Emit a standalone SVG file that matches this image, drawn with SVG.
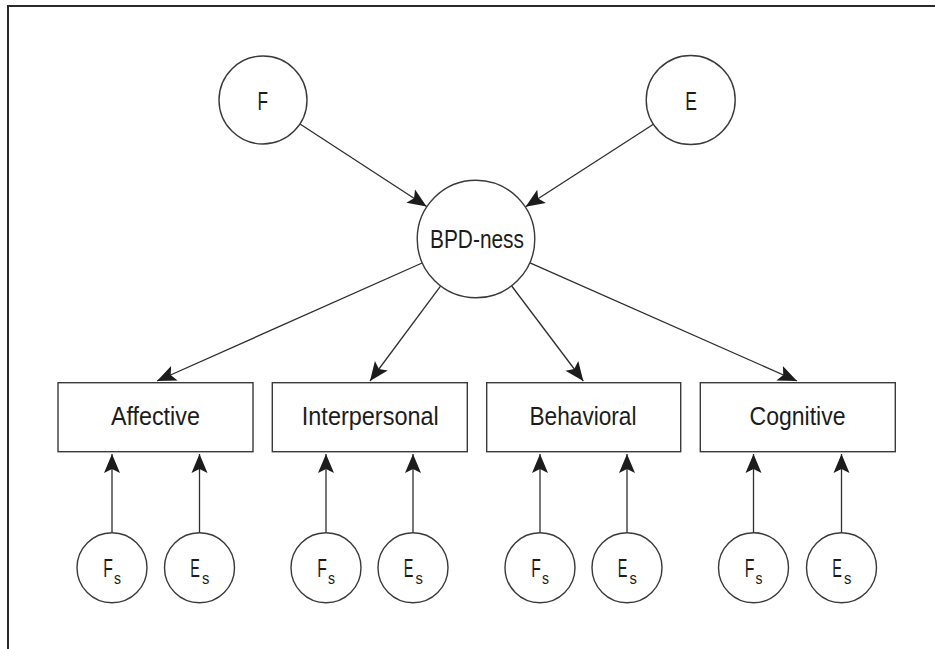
<svg xmlns="http://www.w3.org/2000/svg" width="935" height="649" viewBox="0 0 935 649">
<style>
.frame{fill:none;stroke:#2b2b2b;stroke-width:2}
.node{fill:#fff;stroke:#3a3a3a;stroke-width:1.4}
.edge{fill:none;stroke:#2e2e2e;stroke-width:1.3}
.lbl{font-family:"Liberation Sans Narrow","Liberation Sans",Arial,sans-serif;font-size:26px;fill:#1c1c1c;text-anchor:middle}
.st{font-family:"Liberation Sans Narrow","Liberation Sans",Arial,sans-serif;font-size:26px;fill:#1c1c1c;text-anchor:start}
.sub{font-size:17px}
</style>
<defs>
<marker id="arr" markerUnits="userSpaceOnUse" markerWidth="22" markerHeight="22" viewBox="-20 -10 22 20" refX="0" refY="0" orient="auto">
<path d="M0,0 L-19,-8 L-15,0 L-19,8 Z" fill="#1c1c1c"/>
</marker>
</defs>
<rect width="935" height="649" fill="#fff"/>
<path class="frame" d="M8,649 V6 H935"/>
<g id="connectors">
<line class="edge" x1="300" y1="124" x2="426.6" y2="206.5" marker-end="url(#arr)"/>
<line class="edge" x1="653.8" y1="124" x2="525.6" y2="206.7" marker-end="url(#arr)"/>
<line class="edge" x1="422.1" y1="263" x2="157" y2="381" marker-end="url(#arr)"/>
<line class="edge" x1="440.5" y1="286.2" x2="370" y2="381" marker-end="url(#arr)"/>
<line class="edge" x1="511.7" y1="286" x2="583.3" y2="381" marker-end="url(#arr)"/>
<line class="edge" x1="530" y1="262.8" x2="797" y2="381" marker-end="url(#arr)"/>
<line class="edge" x1="112" y1="532.7" x2="112" y2="454" marker-end="url(#arr)"/>
<line class="edge" x1="199.5" y1="532.7" x2="199.5" y2="454" marker-end="url(#arr)"/>
<line class="edge" x1="326" y1="532.7" x2="326" y2="454" marker-end="url(#arr)"/>
<line class="edge" x1="413" y1="532.7" x2="413" y2="454" marker-end="url(#arr)"/>
<line class="edge" x1="540" y1="532.7" x2="540" y2="454" marker-end="url(#arr)"/>
<line class="edge" x1="627" y1="532.7" x2="627" y2="454" marker-end="url(#arr)"/>
<line class="edge" x1="753.5" y1="532.7" x2="753.5" y2="454" marker-end="url(#arr)"/>
<line class="edge" x1="841.5" y1="532.7" x2="841.5" y2="454" marker-end="url(#arr)"/>
</g>
<g id="F"><circle class="node" cx="263" cy="100" r="44"/><text class="lbl" x="262.7" y="109.5" textLength="10.5" lengthAdjust="spacingAndGlyphs">F</text></g>
<g id="E"><circle class="node" cx="690.7" cy="100" r="44.5"/><text class="lbl" x="691" y="109.5" textLength="11.7" lengthAdjust="spacingAndGlyphs">E</text></g>
<g id="BPD"><circle class="node" cx="476" cy="239" r="58.8"/><text class="lbl" x="477" y="247.5" textLength="94" lengthAdjust="spacingAndGlyphs">BPD-ness</text></g>
<g id="Affective"><rect class="node" x="58" y="382.7" width="195" height="69"/><text class="lbl" x="155.4" y="425" textLength="89" lengthAdjust="spacingAndGlyphs">Affective</text></g>
<g id="Interpersonal"><rect class="node" x="272.3" y="382.7" width="195" height="69"/><text class="lbl" x="370.3" y="425" textLength="137" lengthAdjust="spacingAndGlyphs">Interpersonal</text></g>
<g id="Behavioral"><rect class="node" x="486.7" y="382.7" width="194" height="69"/><text class="lbl" x="583" y="425" textLength="107" lengthAdjust="spacingAndGlyphs">Behavioral</text></g>
<g id="Cognitive"><rect class="node" x="700.3" y="382.7" width="195" height="69"/><text class="lbl" x="797.5" y="425" textLength="96" lengthAdjust="spacingAndGlyphs">Cognitive</text></g>
<g id="Fs1"><circle class="node" cx="112" cy="567.7" r="35"/><text class="st" x="103.3" y="576.8"><tspan textLength="9.6" lengthAdjust="spacingAndGlyphs">F</tspan><tspan class="sub" x="114" y="584.3" textLength="7" lengthAdjust="spacingAndGlyphs">s</tspan></text></g>
<g id="Es1"><circle class="node" cx="199.5" cy="567.7" r="35"/><text class="st" x="190.2" y="576.8"><tspan textLength="9.6" lengthAdjust="spacingAndGlyphs">E</tspan><tspan class="sub" x="201.9" y="584.3" textLength="7.4" lengthAdjust="spacingAndGlyphs">s</tspan></text></g>
<g id="Fs2"><circle class="node" cx="326" cy="567.7" r="35"/><text class="st" x="317.3" y="576.8"><tspan textLength="9.6" lengthAdjust="spacingAndGlyphs">F</tspan><tspan class="sub" x="328" y="584.3" textLength="7" lengthAdjust="spacingAndGlyphs">s</tspan></text></g>
<g id="Es2"><circle class="node" cx="413" cy="567.7" r="35"/><text class="st" x="403.7" y="576.8"><tspan textLength="9.6" lengthAdjust="spacingAndGlyphs">E</tspan><tspan class="sub" x="415.4" y="584.3" textLength="7.4" lengthAdjust="spacingAndGlyphs">s</tspan></text></g>
<g id="Fs3"><circle class="node" cx="540" cy="567.7" r="35"/><text class="st" x="531.3" y="576.8"><tspan textLength="9.6" lengthAdjust="spacingAndGlyphs">F</tspan><tspan class="sub" x="542" y="584.3" textLength="7" lengthAdjust="spacingAndGlyphs">s</tspan></text></g>
<g id="Es3"><circle class="node" cx="627" cy="567.7" r="35"/><text class="st" x="617.7" y="576.8"><tspan textLength="9.6" lengthAdjust="spacingAndGlyphs">E</tspan><tspan class="sub" x="629.4" y="584.3" textLength="7.4" lengthAdjust="spacingAndGlyphs">s</tspan></text></g>
<g id="Fs4"><circle class="node" cx="753.5" cy="567.7" r="35"/><text class="st" x="744.8" y="576.8"><tspan textLength="9.6" lengthAdjust="spacingAndGlyphs">F</tspan><tspan class="sub" x="755.5" y="584.3" textLength="7" lengthAdjust="spacingAndGlyphs">s</tspan></text></g>
<g id="Es4"><circle class="node" cx="841.5" cy="567.7" r="35"/><text class="st" x="832.2" y="576.8"><tspan textLength="9.6" lengthAdjust="spacingAndGlyphs">E</tspan><tspan class="sub" x="843.9" y="584.3" textLength="7.4" lengthAdjust="spacingAndGlyphs">s</tspan></text></g>
</svg>
